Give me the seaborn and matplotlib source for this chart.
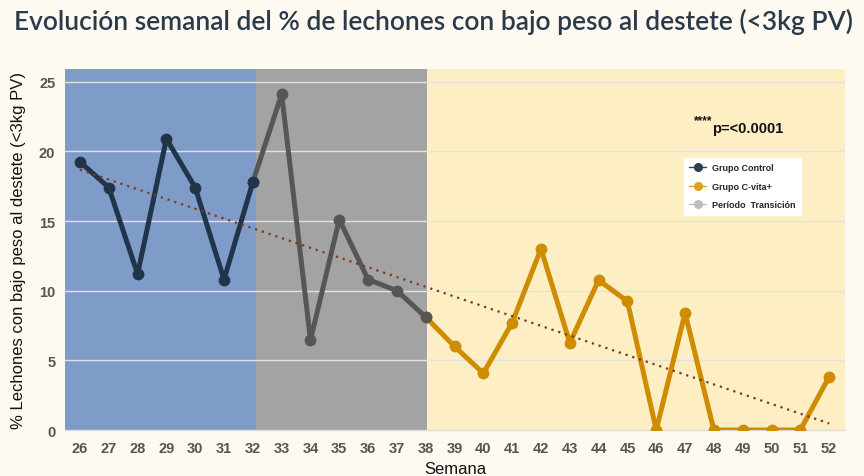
import numpy as np
import pandas as pd
import matplotlib
matplotlib.use("Agg")
import matplotlib.pyplot as plt
import seaborn as sns
from matplotlib.lines import Line2D

# ---- data ----
weeks_control = [26, 27, 28, 29, 30, 31, 32]
vals_control = [19.25, 17.4, 11.2, 20.9, 17.4, 10.8, 17.8]
weeks_trans = [32, 33, 34, 35, 36, 37, 38]
vals_trans = [17.8, 24.1, 6.45, 15.1, 10.8, 10.0, 8.1]
weeks_cvita = [38, 39, 40, 41, 42, 43, 44, 45, 46, 47, 48, 49, 50, 51, 52]
vals_cvita = [8.1, 6.0, 4.07, 7.7, 13.0, 6.25, 10.76, 9.23, 0.0, 8.4, 0.0, 0.0, 0.0, 0.0, 3.82]
x_ticks = list(range(26, 53))
y_ticks = [0, 5, 10, 15, 20, 25]
legend_labels = ["Grupo Control", "Grupo C-vita+", "Período  Transición"]
title = "Evolución semanal del % de lechones con bajo peso al destete (<3kg PV)"
ylabel = "% Lechones con bajo peso al destete (<3kg PV)"
xlabel = "Semana"
pvalue_text = "p=<0.0001"

sns.set_theme(style="white")
plt.rcParams['font.family'] = ['Liberation Sans', 'DejaVu Sans']

BG = "#fefaf1"
fig = plt.figure(figsize=(8.64, 4.77), dpi=100, facecolor=BG)
ax = fig.add_axes([0.0752, 0.0964, 0.9028, 0.7566])
ax.set_facecolor(BG)

xmin, xmax = 25.48, 52.55
ax.axvspan(xmin, 32.1, color="#7f9cc8", lw=0, zorder=0)
ax.axvspan(32.1, 38.05, color="#a3a3a3", lw=0, zorder=0)
ax.axvspan(38.05, xmax, color="#fdeec3", lw=0, zorder=0)

for yv in y_ticks[1:]:
    ax.axhline(yv, color="#e2e2e2", lw=1.0, zorder=1)

df_c = pd.DataFrame({"w": weeks_control, "v": vals_control})
df_t = pd.DataFrame({"w": weeks_trans, "v": vals_trans})
df_v = pd.DataFrame({"w": weeks_cvita, "v": vals_cvita})

lw, ms = 3.6, 8.5
sns.lineplot(data=df_v, x="w", y="v", ax=ax, color="#d08c00", lw=lw, marker="o",
             markersize=ms, markeredgewidth=0, zorder=3, legend=False)
sns.lineplot(data=df_t, x="w", y="v", ax=ax, color="#565656", lw=lw, marker="o",
             markersize=ms, markeredgewidth=0, zorder=4, legend=False)
sns.lineplot(data=df_c, x="w", y="v", ax=ax, color="#22344a", lw=lw, marker="o",
             markersize=ms, markeredgewidth=0, zorder=5, legend=False)

# trend line (linear fit over all weeks)
all_w = np.array(weeks_control + weeks_trans[1:] + weeks_cvita[1:], dtype=float)
all_v = np.array(vals_control + vals_trans[1:] + vals_cvita[1:], dtype=float)
sns.regplot(x=all_w, y=all_v, ax=ax, scatter=False, ci=None, truncate=True,
            line_kws=dict(color="#7a3a1c", lw=1.6, ls=(0, (1, 2.2)), zorder=6))

ax.set_xlim(xmin, xmax)
ax.set_ylim(0, 25.9)
ax.set_xticks(x_ticks)
ax.set_xticklabels([str(t) for t in x_ticks], fontsize=10.5, fontweight="bold", color="#555555")
ax.set_yticks(y_ticks)
ax.set_yticklabels([str(t) for t in y_ticks], fontsize=10.5, fontweight="bold", color="#555555")
ax.tick_params(axis="x", length=0, pad=8)
ax.tick_params(axis="y", length=0, pad=7)
for s in ["top", "right", "left"]:
    ax.spines[s].set_visible(False)
ax.spines["bottom"].set_color("#dddddd")
ax.spines["bottom"].set_linewidth(1.0)

ax.set_xlabel(xlabel, fontsize=12, color="#111111", labelpad=4)
ax.set_ylabel(ylabel, fontsize=12, color="#111111", labelpad=9)

fig.text(0.016, 0.955, title, fontsize=19, fontweight="semibold", color="#2b3a4a",
         family=["Lato", "DejaVu Sans"], ha="left", va="center")

ax.text(47.3, 21.8, "****", fontsize=8.5, fontweight="bold", color="#111111", va="bottom", ha="left")
ax.text(47.95, 21.7, pvalue_text, fontsize=10.5, fontweight="bold", color="#111111", va="center", ha="left")

handles = [
    Line2D([], [], color="#2c3e50", marker="o", lw=1, markersize=5.5),
    Line2D([], [], color="#e0a020", marker="o", lw=1, markersize=5.5),
    Line2D([], [], color="#bdbdbd", marker="o", lw=1, markersize=5.5),
]
leg = ax.legend(handles, legend_labels, loc="upper left", bbox_to_anchor=(0.793, 0.755),
                prop=dict(size=6.5, weight="bold"), frameon=True, fancybox=False,
                handlelength=1.8, labelspacing=1.05, borderpad=0.65, handletextpad=0.7,
                borderaxespad=0)
leg.get_frame().set_facecolor("white")
leg.get_frame().set_edgecolor("white")
leg.get_frame().set_alpha(1.0)
leg.set_zorder(10)

fig.savefig("out.png", dpi=100, facecolor=BG)
